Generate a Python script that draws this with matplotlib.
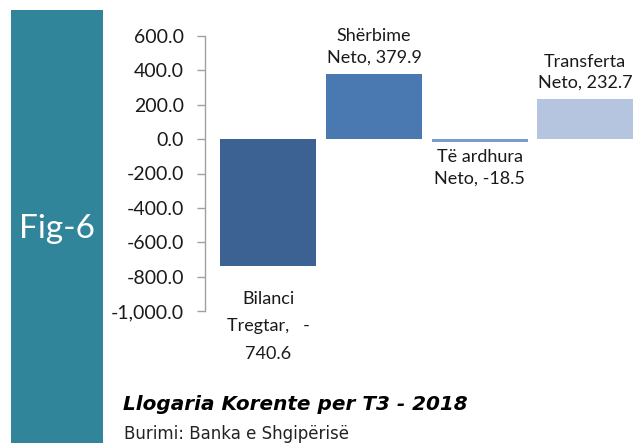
import matplotlib
matplotlib.use("Agg")
import matplotlib.pyplot as plt
from matplotlib.patches import Rectangle

categories = ["Bilanci\nTregtar,   -\n740.6", "Shërbime\nNeto, 379.9", "Të ardhura\nNeto, -18.5", "Transferta\nNeto, 232.7"]
values = [-740.6, 379.9, -18.5, 232.7]
colors = ["#3B6292", "#4A79B1", "#7C9BCC", "#B5C5E0"]
yticks = [600, 400, 200, 0, -200, -400, -600, -800, -1000]

DPI = 100
W, H = 640, 443
fig = plt.figure(figsize=(W / DPI, H / DPI), dpi=DPI)
fig.patch.set_facecolor("white")

# teal side band
fig.patches.append(Rectangle((11 / W, 0), 92 / W, (H - 10) / H, transform=fig.transFigure,
                             facecolor="#31859B", edgecolor="none", zorder=0))
fig.text(57 / W, 1 - 229 / H, "Fig-6", color="white", fontsize=24, family="Lato",
         ha="center", va="center")

ax = fig.add_axes([205 / W, 132 / H, 433 / W, 275 / H])
x = list(range(len(values)))
ax.bar(x, values, width=0.91, color=colors, zorder=2)
ax.set_xlim(-0.6, 3.5)
ax.set_ylim(-1000, 600)
ax.set_yticks(yticks)
ax.set_yticklabels([f"{v:,.1f}" for v in yticks], family="Lato", fontsize=14, color="#1a1a1a")
ax.tick_params(axis="y", length=6, width=1, color="#A0A0A0", pad=9)
ax.set_xticks([])
for s in ["top", "right", "bottom"]:
    ax.spines[s].set_visible(False)
ax.spines["left"].set_color("#A0A0A0")
ax.spines["left"].set_linewidth(1)

offsets = [-18, 6, -5, 6]
for i, (lab, v, off) in enumerate(zip(categories, values, offsets)):
    ax.annotate(lab, xy=(i, v), xytext=(0, off), textcoords="offset points",
                ha="center", va="bottom" if off > 0 else "top",
                family="Lato", fontsize=13, color="#1a1a1a",
                linespacing=1.85 if i == 0 else 1.4, annotation_clip=False)

fig.text(123 / W, 1 - 404 / H, "Llogaria Korente per T3 - 2018", family="DejaVu Sans",
         fontsize=14.4, fontweight="bold", fontstyle="italic", color="black", va="center")
fig.text(124 / W, 1 - 434 / H, "Burimi: Banka e Shgipërisë", family="DejaVu Sans",
         fontsize=12, color="#222222", va="center")

fig.savefig("out.png", dpi=DPI)
